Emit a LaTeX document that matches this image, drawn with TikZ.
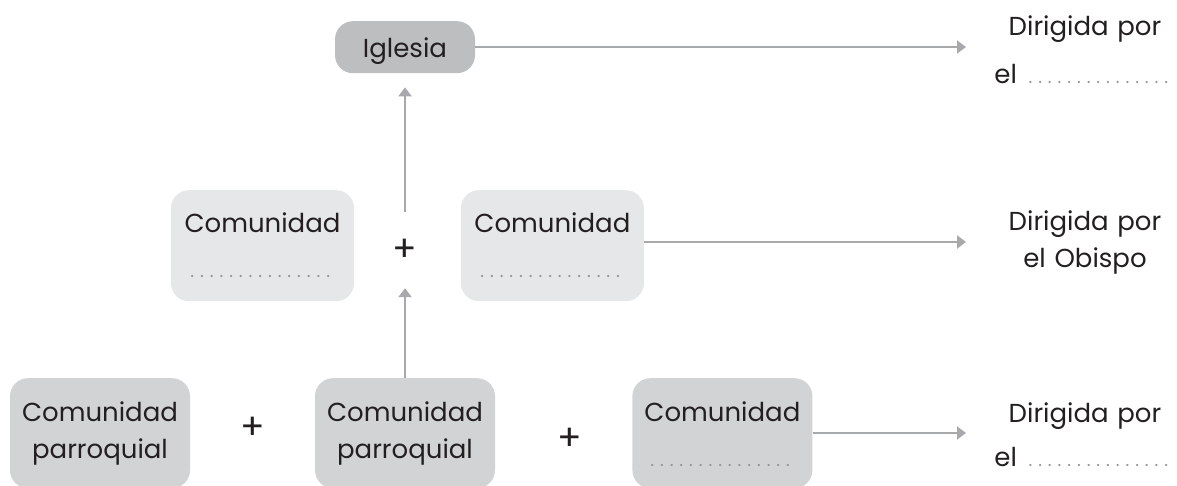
\documentclass[tikz,border=0pt]{standalone}
\usepackage{fontspec}
\setmainfont{Poppins}
\usetikzlibrary{positioning,arrows.meta}

\definecolor{boxdark}{HTML}{BCBEC0}
\definecolor{boxlight}{HTML}{E6E7E8}
\definecolor{boxmid}{HTML}{D1D3D4}
\definecolor{linegray}{HTML}{A7A9AC}
\definecolor{dotgray}{HTML}{939598}
\definecolor{ink}{HTML}{231F20}
\newcommand{\blank}[1]{{\fontsize{18}{37}\selectfont\color{dotgray}\hbox to #1{\leaders\hbox to 9.7pt{\hss.\hss}\hfill}}}

\begin{document}
\begin{tikzpicture}[x=1pt, y=-1pt, font=\fontsize{26}{37}\selectfont, text=ink,
		box/.style={rounded corners=18pt, inner sep=0pt, align=center, anchor=north},
		top/.style={box, fill=boxdark, text width=140pt},
		mid/.style={box, fill=boxlight, text width=183pt},
		low/.style={box, fill=boxmid, text width=180pt},
		sum/.style={inner sep=0pt, minimum height=76pt, font=\fontsize{36}{36}\selectfont},
		note/.style={inner sep=0pt, align=center, anchor=north, text width=200pt},
		arr/.style={draw=linegray, line width=2.4pt, -{Triangle[length=9pt, width=13pt]}}]
		\useasboundingbox (0,0) rectangle (1177,486);

		\node [top] (iglesia) at (405,21) {\rule[-16pt]{0pt}{52pt}Iglesia};
		\node [mid] (comA) at (262.5,190) {\rule{0pt}{42pt}Comunidad\\[8pt]\rule[-24pt]{0pt}{24pt}\blank{150pt}};
		\node [mid, right=106.5pt of comA.north east, anchor=north west] (comB) {\rule{0pt}{42pt}Comunidad\\[8pt]\rule[-24pt]{0pt}{24pt}\blank{150pt}};
		\node [sum] (plusM) at (405,250) {+};
		\node [low] (parr1) at (100,378) {\rule{0pt}{43pt}Comunidad\\\rule[-30pt]{0pt}{30pt}parroquial};
		\node [low] (parr2) at (405,378) {\rule{0pt}{43pt}Comunidad\\\rule[-30pt]{0pt}{30pt}parroquial};
		\node [low, right=137pt of parr2.north east, anchor=north west] (comC) {\rule{0pt}{43pt}Comunidad\\[8pt]\rule[-22pt]{0pt}{22pt}\blank{150pt}};
		\node [sum] (plusA) at (253,428) {+};
		\node [sum] (plusB) at (570,439) {+};

		\node [note] (dirTop) at (1085,0) {\rule{0pt}{35pt}Dirigida por\\[11pt]el \blank{150pt}};
		\node [note] (dirMid) at (1085,195) {\rule{0pt}{35pt}Dirigida por\\el Obispo};
		\node [note] (dirLow) at (1085,387) {\rule{0pt}{35pt}Dirigida por\\[7pt]el \blank{150pt}};
		\coordinate (tipTop) at (966,47);
		\coordinate (tipMid) at (966,242);
		\coordinate (tipLow) at (966,433);

		\draw[arr] (iglesia.east |- tipTop) -- (tipTop);
		\draw[arr] (comB.east |- tipMid) -- (tipMid);
		\draw[arr] (comC.east |- tipLow) -- (tipLow);
		\draw[arr, shorten >=14pt] (plusM) -- (iglesia);
		\draw[arr] (parr2) -- (plusM);
	\end{tikzpicture}
\end{document}
